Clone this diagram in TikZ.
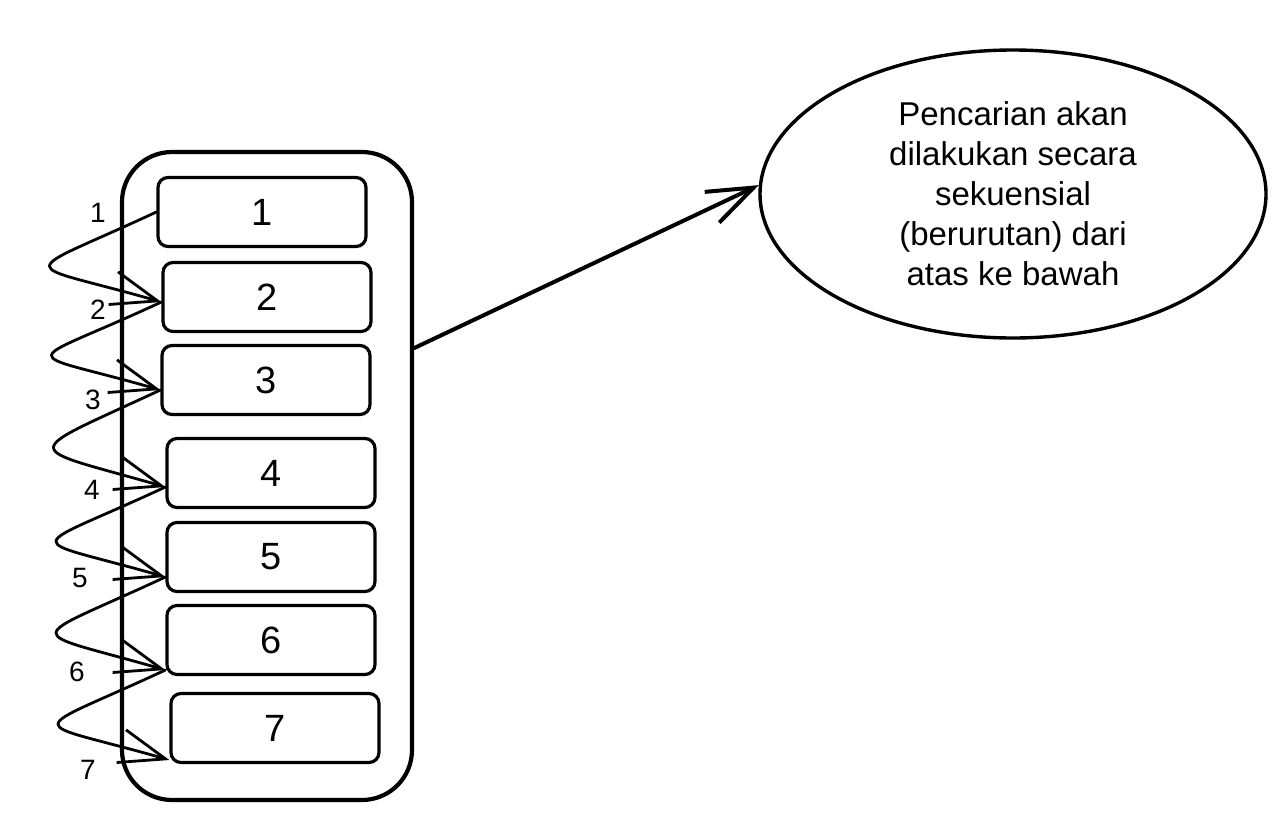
\documentclass[tikz,border=0pt]{standalone}
\usepackage{fontspec}
\setmainfont{Liberation Sans}
\usetikzlibrary{positioning, calc, arrows.meta, shapes.geometric}
\tikzset{
  cell/.style={draw, rounded corners=10pt, minimum width=208pt, minimum height=69pt, line width=3.2pt, font=\fontsize{38}{40}\selectfont},
  num/.style={font=\fontsize{28}{30}\selectfont},
  hop/.style={->, line width=2.8pt},
}
\begin{document}
\begin{tikzpicture}[x=1pt, y=-1pt, line cap=round, line join=round, >={Straight Barb[length=46pt,width=34pt]}]
            \useasboundingbox (0,0) rectangle (1276,822);
            \node[draw, line width=4.2pt, rounded corners=50pt, minimum width=290pt, minimum height=648pt] (frame) at (267,476) {};
            \node[cell] (b1) at (262,212) {1};
            \node[cell] (b2) at (267,297) {2};
            \node[cell] (b3) at (266,380) {3};
            \node[cell] (b4) at (271,473) {4};
            \node[cell] (b5) at (271,557) {5};
            \node[cell] (b6) at (271,640) {6};
            \node[cell] (b7) at (275,728) {7};
            \node[num] (l1) at (98,213) {1};
            \node[num] (l2) at (98,310) {2};
            \node[num] (l3) at (93,400) {3};
            \node[num] (l4) at (92,490) {4};
            \node[num] (l5) at (80,578) {5};
            \node[num] (l6) at (77,672) {6};
            \node[num] (l7) at (88,770) {7};
            \draw[hop] (b1.west) .. controls +(-144,67) and +(-146,-42) .. ($(b2.west)+(0,5)$);
            \draw[hop] ($(b2.west)+(0,5)$) .. controls +(-144,67) and +(-146,-42) .. ($(b3.west)+(0,10)$);
            \draw[hop] ($(b3.west)+(0,10)$) .. controls +(-144,67) and +(-146,-42) .. ($(b4.west)+(0,14)$);
            \draw[hop] ($(b4.west)+(0,14)$) .. controls +(-144,67) and +(-146,-42) .. ($(b5.west)+(0,20)$);
            \draw[hop] ($(b5.west)+(0,20)$) .. controls +(-144,67) and +(-146,-42) .. ($(b6.west)+(0,30)$);
            \draw[hop] ($(b6.west)+(0,30)$) .. controls +(-144,67) and +(-146,-42) .. ($(b7.west)+(0,32)$);
            \node[ellipse, draw, line width=3.4pt, minimum width=506pt, minimum height=288pt, align=center, font=\fontsize{33}{40}\selectfont] (note) at (1013,194) {Pencarian akan\\dilakukan secara\\sekuensial\\(berurutan) dari\\atas ke bawah};
            \draw[->, line width=4pt] (frame.41) -- (note.178);
        \end{tikzpicture}
\end{document}
